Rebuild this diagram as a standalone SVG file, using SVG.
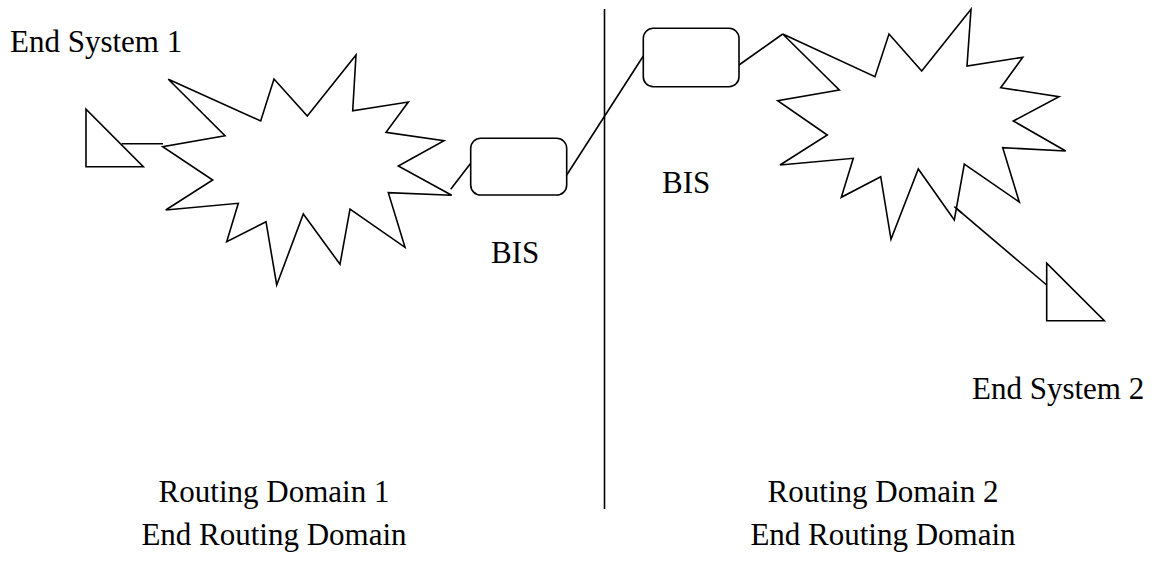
<svg xmlns="http://www.w3.org/2000/svg" width="1157" height="565" viewBox="0 0 1157 565">
<style>
.s{fill:#fff;stroke:#000;stroke-width:1.6;stroke-linejoin:miter}
.c{fill:none;stroke:#000;stroke-width:1.6}
text{font-family:"Liberation Serif","Times New Roman",serif;font-size:31px;fill:#000}
</style>
<rect width="1157" height="565" fill="#fff"/>
<g id="connectors">
<line class="c" x1="121.7" y1="143.7" x2="163" y2="143.7"/>
<line class="c" x1="450.7" y1="189.3" x2="470.7" y2="163.3"/>
<line class="c" x1="566.7" y1="175" x2="643.3" y2="56"/>
<line class="c" x1="739" y1="65" x2="782.7" y2="34"/>
<line class="c" x1="954.3" y1="206.7" x2="1046.7" y2="285"/>
<line class="c" x1="604.5" y1="9" x2="604.5" y2="509"/>
</g>
<g id="end-system-1">
<polygon class="s" points="86,109.3 86,166.7 143.3,166.7"/>
<text x="10" y="52">End System 1</text>
</g>
<g id="cloud-1">
<polygon class="s" points="168.3,79.3 260.7,121 274,79 307.3,116 356,55 352.7,110.7 408.3,102 386,132.3 444,140.7 398.3,166 451.7,195.3 388.3,192.7 405,247.3 350,209 340,264.3 303.3,214 276.7,285 266,221.7 226.7,241.7 238.3,203.3 165.7,210 212.7,180 162.7,146.7 225,135.7"/>
</g>
<g id="bis-1">
<rect class="s" x="470.7" y="138.3" width="96" height="56.7" rx="10" ry="10"/>
<text x="491" y="263">BIS</text>
</g>
<g id="bis-2">
<rect class="s" x="643.3" y="28.3" width="95.7" height="58.4" rx="10" ry="10"/>
<text x="662" y="193">BIS</text>
</g>
<g id="cloud-2">
<polygon class="s" points="782.7,34 875,76.7 889,34 921.7,71 971,9.3 967,66 1022.7,57.3 1000.7,87.7 1059,96.7 1013.3,121 1065.7,151 1002.7,147.7 1019.3,202 964.3,164 954.3,220 918.3,169 891,239.3 880.7,176.7 841.3,197.3 853.3,158.3 780,165 827.3,135 777.7,100.7 839.3,90"/>
</g>
<line class="c" x1="954.3" y1="206.7" x2="962" y2="213.2"/>
<g id="end-system-2">
<polygon class="s" points="1046.7,263.3 1046.7,320.7 1104.3,320.7"/>
<text x="972" y="399">End System 2</text>
</g>
<g id="domain-1">
<text x="274" y="501.7" text-anchor="middle">Routing Domain 1</text>
<text x="274" y="544.5" text-anchor="middle">End Routing Domain</text>
</g>
<g id="domain-2">
<text x="883" y="501.7" text-anchor="middle">Routing Domain 2</text>
<text x="883" y="544.5" text-anchor="middle">End Routing Domain</text>
</g>
</svg>
